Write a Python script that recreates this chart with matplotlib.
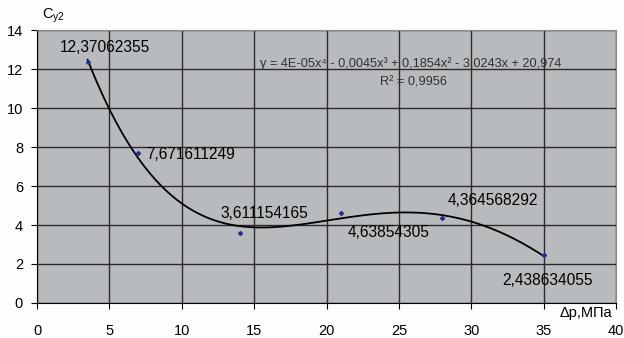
import numpy as np
import matplotlib.pyplot as plt

plt.rcParams['font.family'] = ['Liberation Sans', 'DejaVu Sans']

dp = [3.5, 7, 14, 21, 28, 35]
cy2 = [12.37062355, 7.671611249, 3.611154165, 4.63854305, 4.364568292, 2.438634055]
labels = ['12,37062355', '7,671611249', '3,611154165', '4,63854305', '4,364568292', '2,438634055']
# label offsets in pixels (dx, dy) and alignment
offs = [(17, 14, 'center'), (8, -1, 'left'), (25, 19, 'center'),
        (48, -20, 'center'), (5, 17, 'left'), (4, -25, 'center')]

fig = plt.figure(figsize=(6.24, 3.38), dpi=100, facecolor='#fcfdfd')
ax = fig.add_axes([0.0593, 0.1036, 0.9279, 0.8074])
ax.set_facecolor('#b8bbbe')

# 4th order trendline
coef = np.polyfit(dp, cy2, 4)
xs = np.linspace(dp[0], dp[-1], 300)
ax.plot(xs, np.polyval(coef, xs), color='black', lw=1.3, zorder=3)
ax.scatter(dp, cy2, s=4, marker='D', color='#1f2f9a', zorder=4)

for x, y, t, (dx, dy, ha) in zip(dp, cy2, labels, offs):
    ax.annotate(t, (x, y), xytext=(dx * 0.72, dy * 0.72), textcoords='offset points',
                ha=ha, va='center', fontsize=11.2, color='black', zorder=5)

ax.text(25.8, 12.3, 'y = 4E-05x⁴ - 0,0045x³ + 0,1854x² - 3,0243x + 20,974',
        ha='center', va='center', fontsize=9.2, color='#303030', zorder=5)
ax.text(26.0, 11.3, 'R² = 0,9956', ha='center', va='center', fontsize=9.2,
        color='#303030', zorder=5)

ax.set_xlim(0, 40)
ax.set_ylim(0, 14)
ax.set_xticks(range(0, 41, 5))
ax.set_yticks(range(0, 15, 2))
ax.grid(True, color='#2a2a2a', lw=1)
ax.set_axisbelow(True)
ax.tick_params(direction='out', length=4, labelsize=10.5, pad=6, color='black')
ax.tick_params(axis='x', pad=11)
for s in ['left', 'bottom']:
    ax.spines[s].set_color('black')
for s in ['top', 'right']:
    ax.spines[s].set_color('#8a8a8a')

fig.text(0.068, 0.955, 'C$_{\\mathregular{y2}}$', fontsize=10.5, ha='left', va='center')
fig.text(0.981, 0.073, 'Δp,МПа', fontsize=10.5, ha='right', va='center')

fig.savefig('out.png', dpi=100, facecolor=fig.get_facecolor())
